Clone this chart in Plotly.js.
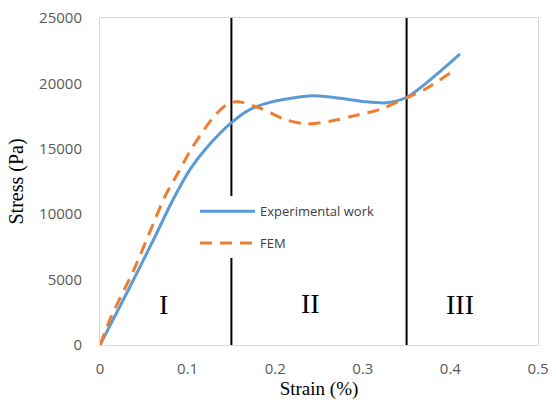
<!DOCTYPE html>
<html>
<head>
<meta charset="utf-8">
<script src="https://cdn.plot.ly/plotly-3.0.1.min.js"></script>
<style>html,body{margin:0;padding:0;background:#fff;}#chart{width:556px;height:403px;}</style>
</head>
<body>
<div id="chart"></div>
<script>
var expStrain = [0, 0.03, 0.06, 0.084, 0.103, 0.122, 0.15, 0.171, 0.194, 0.243, 0.274, 0.3, 0.327, 0.35, 0.388, 0.411];
var expStress = [0, 3900, 7900, 11200, 13450, 15100, 17000, 18000, 18550, 19050, 18860, 18620, 18520, 18940, 20900, 22250];
var femStrain = [0, 0.013, 0.038, 0.061, 0.074, 0.089, 0.103, 0.116, 0.131, 0.147, 0.158, 0.183, 0.213, 0.236, 0.266, 0.289, 0.32, 0.35, 0.371, 0.402];
var femStress = [0, 2200, 5650, 9300, 11340, 13150, 14850, 16180, 17550, 18480, 18600, 18100, 17200, 16900, 17150, 17510, 18020, 18900, 19550, 20900];
var boundaries = [0.15, 0.35];
var regionLabels = ['I', 'II', 'III'];
var regionX = [0.072, 0.24, 0.411];
var regionY = [3060, 3200, 3060];
var seriesNames = ['Experimental work', 'FEM'];

var traces = [
  {x: expStrain, y: expStress, mode: 'lines', name: seriesNames[0], legendgroup: 'a',
   line: {color: '#5B9BD5', width: 3, shape: 'spline', smoothing: 0.9}},
  {x: femStrain, y: femStress, mode: 'lines', name: seriesNames[1], legendgroup: 'b',
   line: {color: '#ED7D31', width: 3, dash: '12px,8px', shape: 'spline', smoothing: 0.8}}
];

var shapes = boundaries.map(function (b) {
  return {type: 'line', xref: 'x', yref: 'y', x0: b, x1: b, y0: 0, y1: 25000,
          line: {color: '#000', width: 2}, layer: 'below'};
});

var annotations = regionLabels.map(function (t, i) {
  return {x: regionX[i], y: regionY[i], xref: 'x', yref: 'y', text: t, showarrow: false,
          font: {family: 'Liberation Serif, Times New Roman, serif', size: 28, color: '#000'}};
});

var layout = {
  width: 556, height: 403,
  margin: {l: 100, r: 18, t: 18, b: 58},
  paper_bgcolor: '#fff', plot_bgcolor: '#fff',
  showlegend: true,
  legend: {x: 0.217, y: 0.455, xanchor: 'left', yanchor: 'top', bgcolor: '#fff',
           font: {family: 'Open Sans, sans-serif', size: 13, color: '#404040'},
           traceorder: 'grouped', tracegroupgap: 12, itemwidth: 55},
  xaxis: {range: [0, 0.5], dtick: 0.1, tick0: 0, showgrid: false, zeroline: false,
          showline: true, mirror: true, linecolor: '#d9d9d9', linewidth: 1, ticks: '',
          ticklabelstandoff: 10,
          tickfont: {family: 'Open Sans, sans-serif', size: 15, color: '#595959'},
          title: {text: 'Strain (%)', standoff: 2,
                  font: {family: 'Liberation Serif, Times New Roman, serif', size: 19, color: '#000'}}},
  yaxis: {range: [0, 25000], dtick: 5000, tick0: 0, tickformat: 'd', showgrid: false, zeroline: false,
          showline: true, mirror: true, linecolor: '#d9d9d9', linewidth: 1, ticks: '',
          ticklabelstandoff: 14,
          tickfont: {family: 'Open Sans, sans-serif', size: 15, color: '#595959'},
          title: {text: 'Stress (Pa)', standoff: 10,
                  font: {family: 'Liberation Serif, Times New Roman, serif', size: 20, color: '#000'}}},
  shapes: shapes,
  annotations: annotations
};

Plotly.newPlot('chart', traces, layout, {displayModeBar: false, staticPlot: true});
</script>
</body>
</html>
